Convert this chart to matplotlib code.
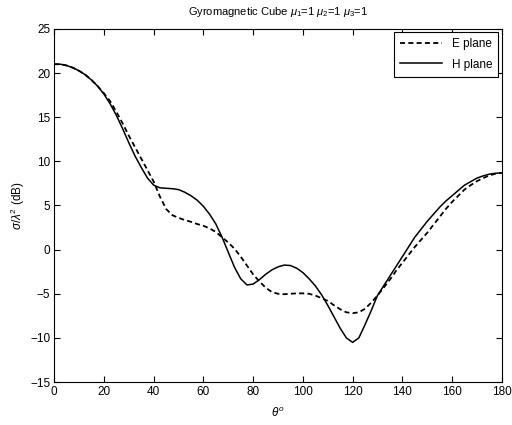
import numpy as np
import matplotlib
matplotlib.use('Agg')
import matplotlib.pyplot as plt

plt.rcParams['font.family'] = ['Liberation Sans', 'DejaVu Sans']
plt.rcParams['mathtext.fontset'] = 'custom'
plt.rcParams['mathtext.rm'] = 'Liberation Sans'
plt.rcParams['mathtext.it'] = 'Liberation Sans:italic'

# angle (deg), values
theta = np.arange(0, 180.1, 2.5)

e_plane = [21.0, 21.0, 20.85, 20.6, 20.25, 19.8, 19.2, 18.5, 17.7, 16.8,
           15.6, 14.3, 12.9, 11.6, 10.3, 9.0, 7.7, 6.0, 4.6, 3.9,
           3.6, 3.35, 3.15, 2.9, 2.7, 2.4, 2.0, 1.4, 0.8, 0.1,
           -0.8, -1.8, -2.8, -3.6, -4.3, -4.8, -5.0, -5.05, -5.0, -4.95,
           -4.95, -5.0, -5.2, -5.5, -5.8, -6.3, -6.75, -7.1, -7.2, -7.1,
           -6.7, -6.0, -5.2, -4.3, -3.4, -2.4, -1.5, -0.6, 0.3, 1.1,
           1.9, 2.8, 3.7, 4.6, 5.4, 6.1, 6.8, 7.3, 7.75, 8.1,
           8.4, 8.6, 8.7]

h_plane = [21.0, 21.0, 20.85, 20.6, 20.25, 19.8, 19.2, 18.5, 17.6, 16.5,
           15.2, 13.7, 12.1, 10.6, 9.3, 8.1, 7.3, 7.0, 6.95, 6.9,
           6.8, 6.5, 6.1, 5.6, 4.9, 4.0, 2.9, 1.4, -0.3, -2.0,
           -3.3, -4.0, -3.9, -3.4, -2.8, -2.3, -1.95, -1.75, -1.8, -2.1,
           -2.6, -3.3, -4.1, -5.1, -6.3, -7.6, -8.9, -10.0, -10.5, -10.0,
           -8.5, -6.9, -5.2, -4.1, -3.0, -1.9, -0.8, 0.3, 1.4, 2.3,
           3.2, 4.0, 4.8, 5.5, 6.1, 6.7, 7.3, 7.7, 8.1, 8.35,
           8.55, 8.65, 8.7]

fig = plt.figure(figsize=(5.12, 4.25), dpi=100)
ax = fig.add_axes([0.106, 0.101, 0.874, 0.831])

ax.plot(theta, e_plane, 'k--', linewidth=1.3, dashes=(2.8, 1.8), label='E plane')
ax.plot(theta, h_plane, 'k-', linewidth=1.1, label='H plane')

ax.set_xlim(0, 180)
ax.set_ylim(-15, 25)
ax.set_xticks(np.arange(0, 181, 20))
ax.set_yticks(np.arange(-15, 26, 5))
ax.tick_params(direction='in', top=True, right=True, labelsize=8.5, length=4, pad=3)
for s in ax.spines.values():
    s.set_linewidth(0.8)

ax.set_title(r'Gyromagnetic Cube $\mu_1$=1 $\mu_2$=1 $\mu_3$=1', fontsize=8, pad=10)
ax.set_xlabel(r'$\theta^o$', fontsize=8.5, labelpad=6)
ax.set_ylabel(r'$\sigma/\lambda^2$ (dB)', fontsize=8.5, labelpad=2)

leg = ax.legend(loc='upper right', fontsize=8.5, fancybox=False, framealpha=1,
                edgecolor='black', handlelength=3.6, borderpad=0.5,
                labelspacing=0.7, borderaxespad=0.3)
leg.get_frame().set_linewidth(0.8)

fig.savefig('out.png', dpi=100)
